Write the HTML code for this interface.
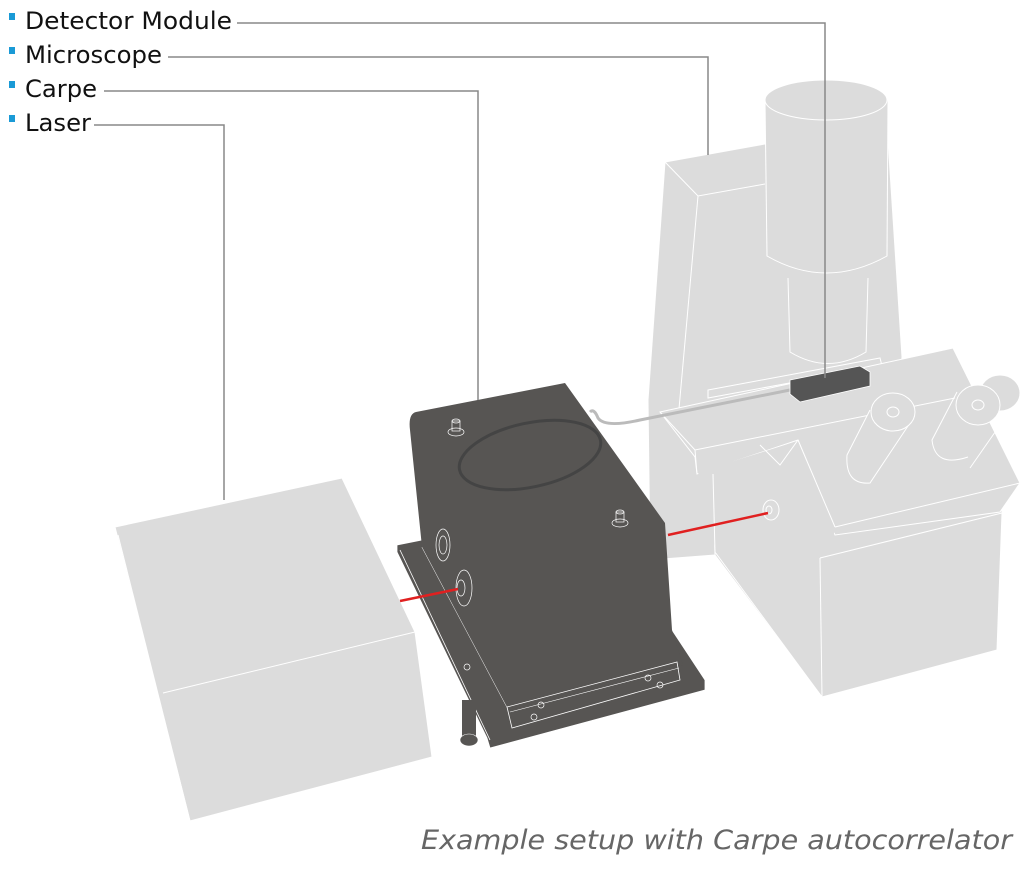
<!DOCTYPE html>
<html><head><meta charset="utf-8"><style>
html,body{margin:0;padding:0;background:#fff;width:1024px;height:875px;overflow:hidden}
svg{display:block}
</style></head><body>
<svg width="1024" height="875" viewBox="0 0 1024 875" xmlns="http://www.w3.org/2000/svg">
<g fill="#dcdcdc" stroke="#fff" stroke-width="1">
  <polygon points="665,162 765,144 888,140 902,357 900,380 715,555 650,560 648,400"/>
  <polyline fill="none" points="665,162 698,196 765,184"/>
  <line x1="698" y1="196" x2="678" y2="420"/>
  <path d="M765,100 L767,256 Q826,290 887,256 L888,100 Z"/>
  <ellipse cx="826" cy="100" rx="61" ry="20"/>
  <path d="M788,278 L790,352 Q828,375 866,352 L868,278"/>
  <polygon points="708,390 880,358 882,366 708,398"/>
  <polygon points="713,474 835,527 1002,500 1002,513 997,650 822,697 715,555"/>
  <polyline fill="none" points="820,558 1002,513"/>
  <line x1="820" y1="558" x2="822" y2="697"/>
  <line x1="715" y1="552" x2="822" y2="697"/>
  <polygon points="660,412 953,348 1020,483 1000,512 835,535 798,440 697,474 695,457"/>
  <polyline fill="none" points="660,412 695,450 955,398"/>
  <line x1="695" y1="450" x2="697" y2="474"/>
  <line x1="835" y1="527" x2="1020" y2="483"/>
  <!-- filler under stage -->
  <polygon points="698,472 798,441 836,530 820,556 716,553" stroke="none"/>
  <line x1="798" y1="440" x2="835" y2="527"/>
  <line x1="713" y1="474" x2="715" y2="552"/>
  <polyline fill="none" points="760,445 780,465 798,440"/>
  <path d="M870,410 L847,455 Q845,485 870,483 L912,420"/>
  <ellipse cx="893" cy="412" rx="22" ry="19"/>
  <ellipse cx="893" cy="412" rx="6" ry="5"/>
  <path d="M957,392 L932,440 Q935,468 968,457" fill="none"/>
  <line x1="1000" y1="425" x2="970" y2="468"/>
  <ellipse cx="1000" cy="393" rx="20" ry="18"/>
  <ellipse cx="978" cy="405" rx="22" ry="20"/>
  <ellipse cx="978" cy="405" rx="6" ry="5"/>
  <ellipse cx="771" cy="510" rx="8" ry="10"/>
  <ellipse cx="769" cy="510" rx="3" ry="4"/>
</g>
<path d="M790,390 L640,420 Q605,428 598,418 Q594,408 590,412" fill="none" stroke="#bbb" stroke-width="3"/>
<polygon points="790,380 860,366 870,372 870,386 800,402 790,394" fill="#555" stroke="#fff" stroke-width="0.8"/>
<g fill="#dcdcdc" stroke="#fff" stroke-width="1">
  <polygon points="115,527 342,478 415,632 432,757 190,821"/>
  <line x1="163" y1="693" x2="415" y2="632"/>
  <line x1="118" y1="535" x2="190" y2="821"/>
</g>
<polygon points="397,545 422,540 672,630 705,680 705,690 490,748 487,738 397,552" fill="#575553" stroke="#fff" stroke-width="0.8"/>
<line x1="400" y1="550" x2="490" y2="740" stroke="#fff" stroke-width="0.8"/>
<line x1="422" y1="547" x2="507" y2="707" stroke="#fff" stroke-width="0.8"/>
<rect x="462" y="700" width="14" height="40" fill="#575553"/>
<ellipse cx="469" cy="740" rx="9" ry="6" fill="#575553" stroke="#fff" stroke-width="0.6"/>
<path d="M416,412 L565,383 L665,523 L672,630 L683,665 L512,712 L507,707 L422,547 L410,430 Q408,414 416,412 Z" fill="#575553"/>
<polygon points="507,707 677,662 680,680 512,728" fill="#575553" stroke="#fff" stroke-width="0.8"/>
<line x1="510" y1="712" x2="679" y2="668" stroke="#fff" stroke-width="0.6"/>
<g fill="none" stroke="#fff" stroke-width="0.7">
  <circle cx="541" cy="705" r="3"/><circle cx="534" cy="717" r="3"/>
  <circle cx="648" cy="678" r="3"/><circle cx="660" cy="685" r="3"/>
  <circle cx="467" cy="667" r="3"/>
  <ellipse cx="456" cy="432" rx="8" ry="4"/><rect x="452" y="421" width="8" height="10"/><ellipse cx="456" cy="421" rx="4" ry="2"/>
  <ellipse cx="620" cy="523" rx="8" ry="4"/><rect x="616" y="512" width="8" height="10"/><ellipse cx="620" cy="512" rx="4" ry="2"/>
  <ellipse cx="443" cy="545" rx="7" ry="16"/><ellipse cx="443" cy="545" rx="4" ry="9"/>
  <ellipse cx="464" cy="588" rx="8" ry="18"/><ellipse cx="461" cy="588" rx="4" ry="8"/>
</g>
<ellipse cx="530" cy="455" rx="72" ry="32" transform="rotate(-12 530 455)" fill="none" stroke="#444" stroke-width="3"/>
<line x1="400" y1="601" x2="458" y2="589" stroke="#e02020" stroke-width="2.5"/>
<line x1="668" y1="535" x2="768" y2="513" stroke="#e02020" stroke-width="2.5"/>
<g fill="none" stroke="#888" stroke-width="1.5">
  <polyline points="237,23 825,23 825,378"/>
  <polyline points="168,57 708,57 708,155"/>
  <polyline points="104,91 478,91 478,400"/>
  <polyline points="94,125 224,125 224,500"/>
</g>
<g fill="#1a9ad6">
  <rect x="9" y="13" width="6" height="7"/>
  <rect x="9" y="47" width="6" height="7"/>
  <rect x="9" y="81" width="6" height="7"/>
  <rect x="9" y="115" width="6" height="7"/>
</g>
<g font-family="'DejaVu Sans','Liberation Sans',sans-serif" font-size="24" fill="#111">
  <text x="25" y="29" textLength="207" lengthAdjust="spacingAndGlyphs">Detector Module</text>
  <text x="25" y="63" textLength="137" lengthAdjust="spacingAndGlyphs">Microscope</text>
  <text x="25" y="97" textLength="72" lengthAdjust="spacingAndGlyphs">Carpe</text>
  <text x="25" y="131" textLength="66" lengthAdjust="spacingAndGlyphs">Laser</text>
</g>
<text x="421" y="849" font-family="'DejaVu Sans','Liberation Sans',sans-serif" font-style="italic" font-size="27" fill="#666" textLength="591" lengthAdjust="spacingAndGlyphs">Example setup with Carpe autocorrelator</text>
</svg>
</body></html>
